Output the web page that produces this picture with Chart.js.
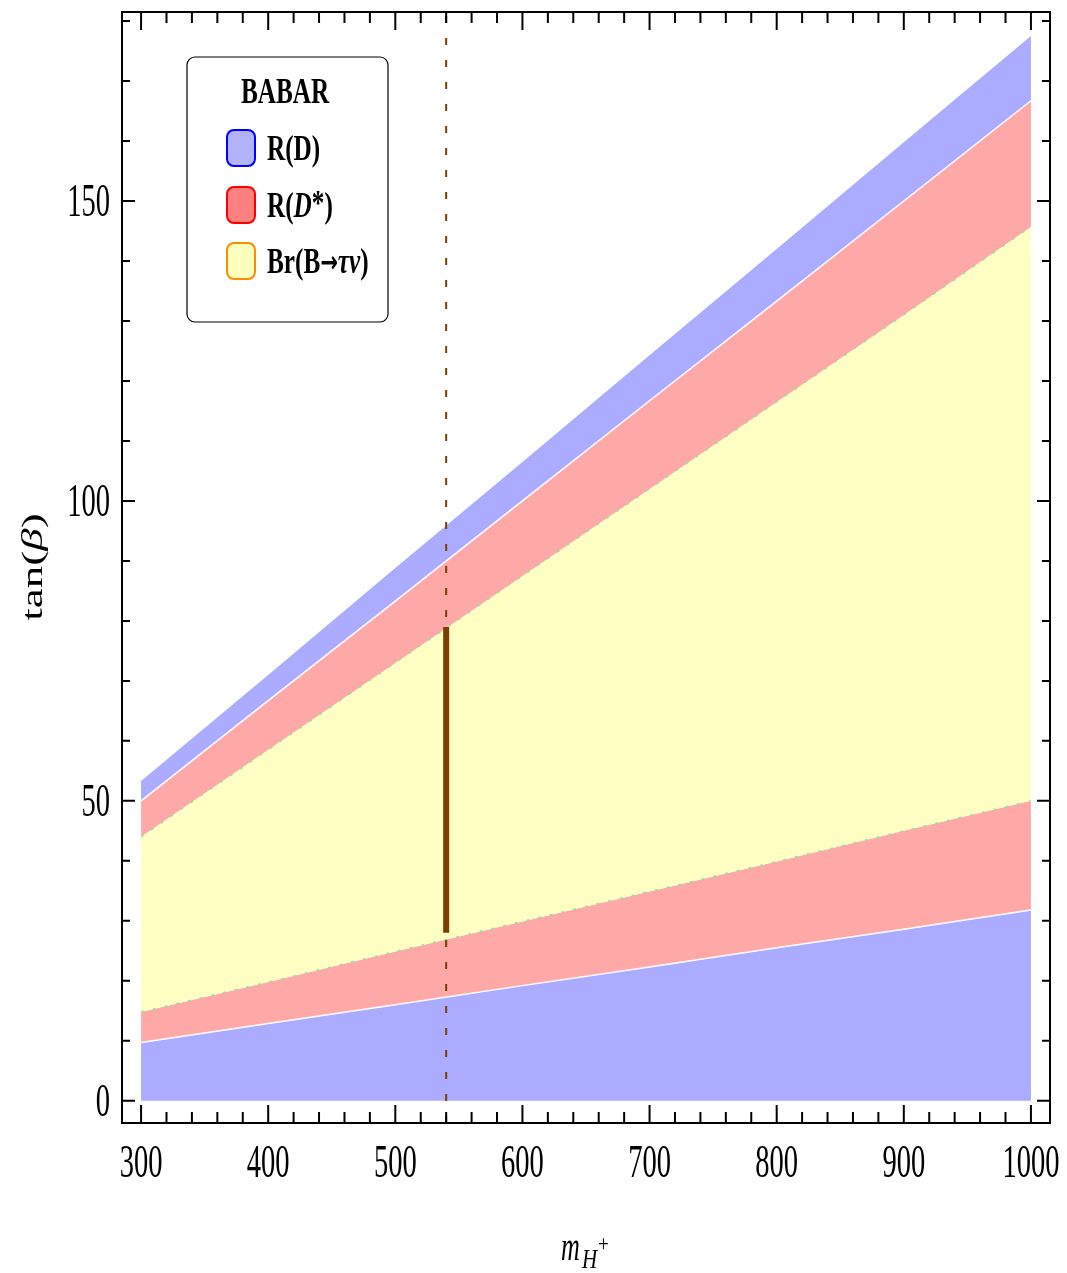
<!DOCTYPE html>
<html>
<head>
<meta charset="utf-8">
<style>
  html, body { margin: 0; padding: 0; background: #fff; }
  #wrap { position: relative; width: 1067px; height: 1273px; }
</style>
<script src="https://cdn.jsdelivr.net/npm/chart.js@4.4.1/dist/chart.umd.min.js"></script>
</head>
<body>
<div id="wrap"><canvas id="tanbChart"></canvas></div>
<script>
// charged Higgs mass (x) and tan(beta) band edges
const masses = [300, 400, 500, 600, 700, 800, 900, 1000];
const rdUpper = [53.3, 71.0, 88.8, 106.5, 124.3, 142.0, 159.8, 177.5];
const rdStarUpper = [50.0, 66.7, 83.3, 100.0, 116.7, 133.3, 150.0, 166.7];
const brUpper = [44.0, 58.5, 73.0, 87.5, 102.0, 116.5, 131.0, 145.7];
const brLower = [14.8, 19.8, 24.9, 29.9, 34.9, 39.9, 45.0, 50.0];
const rdLower = [9.7, 12.9, 16.0, 19.2, 22.3, 25.5, 28.6, 31.8];

// benchmark mass and allowed segment
const benchMass = 540;
const benchRange = [28, 79];

// axes
const xTicks = [300, 400, 500, 600, 700, 800, 900, 1000];
const yTicks = [0, 50, 100, 150];
const xRange = [285, 1015];
const yRange = [-3.7, 181.5];

const legendLabels = ['R(D)', 'R(D*)', 'Br(B\u2192\u03c4\u03bd)'];

const blueFill = 'rgb(171,171,255)';
const redFill = 'rgb(255,168,168)';
const yellowFill = 'rgb(255,255,196)';
const brown = '#7c3d00';
const SERIF = '"Liberation Serif", "DejaVu Serif", serif';

const pts = (ys) => masses.map((m, i) => ({ x: m, y: ys[i] }));

// draw text squeezed horizontally (the original figure is narrow)
function drawParts(ctx, parts, x, y, sx, size, bold, align) {
  ctx.save();
  ctx.translate(x, y);
  ctx.scale(sx, 1);
  const fontOf = (p) => (p.it ? 'italic ' : '') + (bold ? 'bold ' : '') + (p.size || size) + 'px ' + (p.fam || SERIF);
  let total = 0;
  parts.forEach(p => { ctx.font = fontOf(p); total += ctx.measureText(p.t).width; });
  let cx = align === 'center' ? -total / 2 : align === 'right' ? -total : 0;
  ctx.textAlign = 'left';
  ctx.textBaseline = 'alphabetic';
  parts.forEach(p => {
    ctx.font = fontOf(p);
    ctx.fillText(p.t, cx, p.dy || 0);
    cx += ctx.measureText(p.t).width;
  });
  ctx.restore();
}

const framePlugin = {
  id: 'frame',
  afterDraw(chart) {
    const { ctx, chartArea: a, scales: { x, y } } = chart;
    ctx.save();
    ctx.strokeStyle = '#000';
    ctx.fillStyle = '#000';
    ctx.lineWidth = 2;
    ctx.strokeRect(a.left, a.top, a.width, a.height);

    // inward ticks on all four sides
    ctx.beginPath();
    for (let v = xTicks[0]; v <= xRange[1]; v += 20) {
      const px = x.getPixelForValue(v);
      const len = v % 100 === 0 ? 18 : 11;
      ctx.moveTo(px, a.bottom); ctx.lineTo(px, a.bottom - len);
      ctx.moveTo(px, a.top); ctx.lineTo(px, a.top + len);
    }
    for (let v = 0; v <= yRange[1]; v += 10) {
      const py = y.getPixelForValue(v);
      const len = v % 50 === 0 ? 13 : 8;
      ctx.moveTo(a.left, py); ctx.lineTo(a.left + len, py);
      ctx.moveTo(a.right, py); ctx.lineTo(a.right - len, py);
    }
    ctx.stroke();

    // tick labels
    x.ticks.forEach(t => {
      drawParts(ctx, [{ t: String(t.value) }], x.getPixelForValue(t.value), a.bottom + 54, 0.62, 46, false, 'center');
    });
    y.ticks.forEach(t => {
      drawParts(ctx, [{ t: String(t.value) }], a.left - 12, y.getPixelForValue(t.value) + 15, 0.62, 46, false, 'right');
    });

    // axis titles
    ctx.save();
    ctx.translate(42, 567);
    ctx.rotate(-Math.PI / 2);
    drawParts(ctx, [{ t: 'tan(' }, { t: '\u03b2', it: true }, { t: ')' }], 0, 0, 1.5, 30, false, 'center');
    ctx.restore();

    drawParts(ctx, [{ t: 'm', it: true }], 561, 1260, 0.62, 42, false, 'left');
    drawParts(ctx, [{ t: 'H', it: true }], 582, 1268, 0.75, 28, false, 'left');
    drawParts(ctx, [{ t: '+' }], 598, 1251, 0.8, 24, false, 'left');

    // legend
    ctx.beginPath();
    ctx.roundRect(187, 57, 201, 265, 8);
    ctx.fillStyle = '#fff';
    ctx.fill();
    ctx.lineWidth = 1.2;
    ctx.strokeStyle = '#000';
    ctx.stroke();
    ctx.fillStyle = '#000';
    drawParts(ctx, [{ t: 'BABAR' }], 285, 103, 0.7, 36, true, 'center');

    const swatches = [
      { fill: 'rgb(178,178,255)', edge: '#0000ff' },
      { fill: 'rgb(255,128,128)', edge: '#ff0000' },
      { fill: 'rgb(255,255,190)', edge: '#ff8c00' }
    ];
    const texts = [
      [{ t: 'R(D)' }],
      [{ t: 'R(' }, { t: 'D', it: true }, { t: '*', dy: -2 }, { t: ')' }],
      [{ t: 'Br(B' }, { t: '\u2192', fam: '"DejaVu Sans", sans-serif', size: 30, dy: -1 }, { t: '\u03c4\u03bd', it: true }, { t: ')' }]
    ];
    const baselines = [160, 217, 273];
    legendLabels.forEach((lab, i) => {
      const cy = baselines[i] - 12;
      ctx.beginPath();
      ctx.roundRect(227, cy - 18, 28, 36, 7);
      ctx.fillStyle = swatches[i].fill;
      ctx.fill();
      ctx.lineWidth = 2;
      ctx.strokeStyle = swatches[i].edge;
      ctx.stroke();
      ctx.fillStyle = '#000';
      drawParts(ctx, texts[i], 267, baselines[i], 0.7, 36, true, 'left');
    });
    ctx.restore();
  }
};

const bandStyle = { pointRadius: 0, tension: 0 };
const edgeDash = { borderColor: '#8fe6a8', borderWidth: 1.5, borderDash: [3, 9] };

new Chart(document.getElementById('tanbChart'), {
  type: 'line',
  data: {
    datasets: [
      { label: legendLabels[0], data: pts(rdUpper), fill: '+1', backgroundColor: blueFill, borderWidth: 0, ...bandStyle },
      { label: legendLabels[1], data: pts(rdStarUpper), fill: '+1', backgroundColor: redFill, borderColor: '#ffffff', borderWidth: 1.5, ...bandStyle },
      { label: legendLabels[2], data: pts(brUpper), fill: '+1', backgroundColor: yellowFill, ...edgeDash, ...bandStyle },
      { label: legendLabels[1], data: pts(brLower), fill: '+1', backgroundColor: redFill, ...edgeDash, ...bandStyle },
      { label: legendLabels[0], data: pts(rdLower), fill: 'origin', backgroundColor: blueFill, borderColor: '#ffffff', borderWidth: 1.5, ...bandStyle },
      {
        label: 'benchmark', data: [{ x: benchMass, y: yRange[0] }, { x: benchMass, y: yRange[1] }],
        fill: false, borderColor: brown, borderWidth: 2, borderDash: [7, 15], pointRadius: 0, order: -1
      },
      {
        label: 'allowed', data: [{ x: benchMass, y: benchRange[0] }, { x: benchMass, y: benchRange[1] }],
        fill: false, borderColor: brown, borderWidth: 6, borderCapStyle: 'butt', pointRadius: 0, order: -2
      }
    ]
  },
  options: {
    responsive: true,
    maintainAspectRatio: false,
    animation: false,
    devicePixelRatio: 1,
    layout: { padding: { top: 12, right: 17, left: 0, bottom: 0 } },
    plugins: {
      legend: { display: false },
      tooltip: { enabled: false },
      filler: { drawTime: 'beforeDatasetsDraw' }
    },
    scales: {
      x: {
        type: 'linear',
        min: xRange[0],
        max: xRange[1],
        grid: { display: false },
        border: { display: false },
        ticks: { display: false },
        afterBuildTicks: (s) => { s.ticks = xTicks.map(v => ({ value: v })); },
        afterFit: (s) => { s.height = 150; }
      },
      y: {
        type: 'linear',
        min: yRange[0],
        max: yRange[1],
        grid: { display: false },
        border: { display: false },
        ticks: { display: false },
        afterBuildTicks: (s) => { s.ticks = yTicks.map(v => ({ value: v })); },
        afterFit: (s) => { s.width = 122; }
      }
    }
  },
  plugins: [framePlugin]
});
</script>
</body>
</html>
